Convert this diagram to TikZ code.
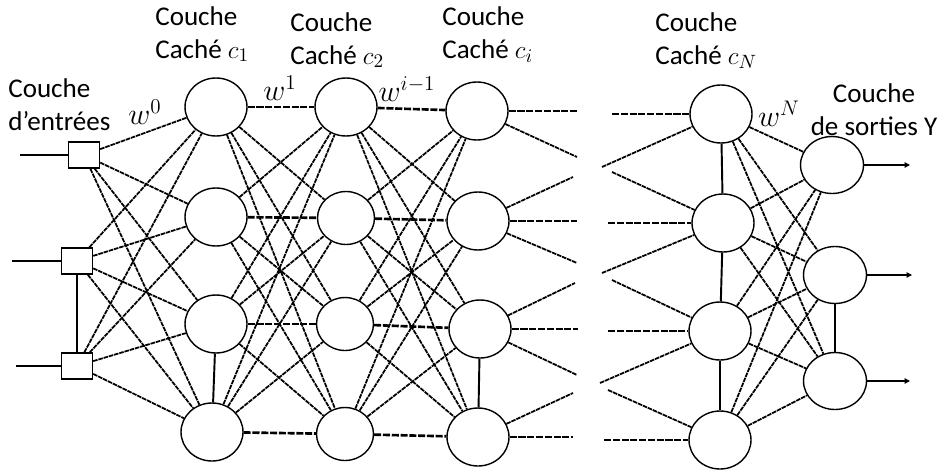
\documentclass[tikz,border=0pt]{standalone}
\usepackage{fontspec}
\setmainfont{Carlito}
\usetikzlibrary{shapes.geometric,arrows.meta}

\begin{document}
\begin{tikzpicture}[x=0.02cm,y=-0.02cm,
  input node/.style={rectangle,draw,line width=0.8pt,fill=white,minimum width=0.62cm,minimum height=0.52cm,inner sep=0pt},
  hidden node/.style={ellipse,draw,line width=0.8pt,fill=white,minimum width=1.24cm,minimum height=1.16cm,inner sep=0pt},
  small node/.style={hidden node,minimum width=1.14cm,minimum height=1.06cm},
  output node/.style={hidden node,minimum width=1.26cm,minimum height=1.14cm},
  layer label/.style={font=\fontsize{15.4}{18.8}\selectfont,align=left,anchor=north west,inner sep=0pt},
  weight label/.style={font=\fontsize{17.5}{20}\selectfont,inner sep=0pt},
  link/.style={line width=1pt,dash pattern=on 2.6pt off 0.5pt},
  hlink/.style={line width=1.5pt,dash pattern=on 4pt off 1pt},
  vlink/.style={line width=1.1pt}]

  \useasboundingbox (0,0) rectangle (944,474);

  % entrees
  \node[input node] (x1) at (84,155) {};
  \node[input node] (x2) at (77,261) {};
  \node[input node] (x3) at (77,366) {};
  % couche cachee c1
  \node[hidden node] (p1) at (216,107) {};
  \node[hidden node] (p2) at (216,217) {};
  \node[hidden node] (p3) at (216,324) {};
  \node[hidden node] (p4) at (212,432) {};
  % couche cachee c2
  \node[hidden node] (q1) at (346,107) {};
  \node[small node] (q2) at (346,218) {};
  \node[small node] (q3) at (345,324) {};
  \node[small node] (q4) at (345,434) {};
  % couche cachee ci
  \node[hidden node] (r1) at (477,111) {};
  \node[hidden node] (r2) at (478,221) {};
  \node[hidden node] (r3) at (480,329) {};
  \node[hidden node] (r4) at (478,437) {};
  % couche cachee cN
  \node[hidden node] (s1) at (721,114) {};
  \node[hidden node] (s2) at (723,223) {};
  \node[hidden node] (s3) at (720,331) {};
  \node[hidden node] (s4) at (720,440) {};
  % sorties
  \node[output node] (y1) at (832,165) {};
  \node[output node] (y2) at (835,275) {};
  \node[output node] (y3) at (835,381) {};

  % bouts libres
  \coordinate (e1) at (20,155);
  \coordinate (e2) at (12,261);
  \coordinate (e3) at (16,366);
  \coordinate (f1) at (910,165);
  \coordinate (f2) at (912,275);
  \coordinate (f3) at (910,381);
  \coordinate (l1) at (578,111);
  \coordinate (l2) at (577,157);
  \coordinate (l3) at (573,177);
  \coordinate (l4) at (577,221);
  \coordinate (l5) at (577,263);
  \coordinate (l6) at (575,283);
  \coordinate (l7) at (578,329);
  \coordinate (l8) at (577,375);
  \coordinate (l9) at (573,393);
  \coordinate (l10) at (573,437);
  \coordinate (m1) at (612,114);
  \coordinate (m2) at (602,167);
  \coordinate (m3) at (612,172);
  \coordinate (m4) at (608,223);
  \coordinate (m5) at (602,273);
  \coordinate (m6) at (612,280);
  \coordinate (m7) at (608,331);
  \coordinate (m8) at (600,383);
  \coordinate (m9) at (608,390);
  \coordinate (m10) at (604,440);

  \draw[line width=0.6pt] (e1) -- (x1);
  \draw[line width=1.3pt] (e2) -- (x2);
  \draw[line width=1.3pt] (e3) -- (x3);
  \draw[line width=1.3pt,-{Triangle[length=3pt,width=3pt]}] (y1) -- (f1);
  \draw[line width=0.6pt,-{Triangle[length=3pt,width=3pt]}] (y2) -- (f2);
  \draw[line width=1.3pt,-{Triangle[length=3pt,width=3pt]}] (y3) -- (f3);

 \path (x1) [link] edge (p1) edge (p2) edge (p3) edge (p4);
 \path (x2) [link] edge (p1) edge (p2) edge (p3) edge (p4);
 \path (x3) [link] edge (p1) edge (p2) edge (p3) edge (p4);

 \path (p1) edge[hlink] (q1) edge[link] (q2) edge[link] (q3) edge[link] (q4);
 \path (p2) edge[hlink] (q2) edge[link] (q1) edge[link] (q3) edge[link] (q4);
 \path (p3) edge[hlink] (q3) edge[link] (q1) edge[link] (q2) edge[link] (q4);
 \path (p4) edge[hlink] (q4) edge[link] (q1) edge[link] (q2) edge[link] (q3);

 \path (q1) edge[hlink] (r1) edge[link] (r2) edge[link] (r3) edge[link] (r4);
 \path (q2) edge[hlink] (r2) edge[link] (r1) edge[link] (r3) edge[link] (r4);
 \path (q3) edge[hlink] (r3) edge[link] (r1) edge[link] (r2) edge[link] (r4);
 \path (q4) edge[hlink] (r4) edge[link] (r1) edge[link] (r2) edge[link] (r3);

 \path (r1) edge[hlink] (l1) edge[link] (l2);
 \path (r2) edge[link] (l3) edge[hlink] (l4) edge[link] (l5);
 \path (r3) edge[link] (l6) edge[hlink] (l7) edge[link] (l8);
 \path (r4) edge[link] (l9) edge[hlink] (l10);

 \path (m1) edge[hlink] (s1);
 \path (m2) edge[link] (s1);
 \path (m3) edge[link] (s2);
 \path (m4) edge[hlink] (s2);
 \path (m5) edge[link] (s2);
 \path (m6) edge[link] (s3);
 \path (m7) edge[hlink] (s3);
 \path (m8) edge[link] (s3);
 \path (m9) edge[link] (s4);
 \path (m10) edge[hlink] (s4);

 \path (s1) [link] edge (y1) edge (y2) edge (y3);
 \path (s2) [link] edge (y1) edge (y2) edge (y3);
 \path (s3) [link] edge (y1) edge (y2) edge (y3);
 \path (s4) [link] edge (y1) edge (y2) edge (y3);

 \path (x2) [vlink] edge (x3);
 \path (p3) [vlink] edge (p4);
 \path (r3) [vlink] edge (r4);
 \path (s1) [vlink] edge (s2);
 \path (s2) [vlink] edge (s3);
 \path (s3) [vlink] edge (s4);
 \path (y2) [vlink] edge (y3);

  % textes
  \node[layer label] (tin) at (8,78) {Couche\\d’entrées};
  \node[layer label] (tc1) at (155,6) {Couche\\Caché $c_1$};
  \node[layer label] (tc2) at (290,12) {Couche\\Caché $c_2$};
  \node[layer label] (tci) at (442,6) {Couche\\Caché $c_i$};
  \node[layer label] (tcn) at (655,12) {Couche\\Caché $c_N$};
  \node[layer label,align=center,anchor=north] (tout) at (874,83) {Couche\\de sorties Y};
  \node[weight label] (w0) at (145,112) {$w^0$};
  \node[weight label] (w1) at (280,88) {$w^1$};
  \node[weight label] (wi) at (407,89) {$w^{i-1}$};
  \node[weight label] (wn) at (779,114) {$w^N$};
\end{tikzpicture}
\end{document}
